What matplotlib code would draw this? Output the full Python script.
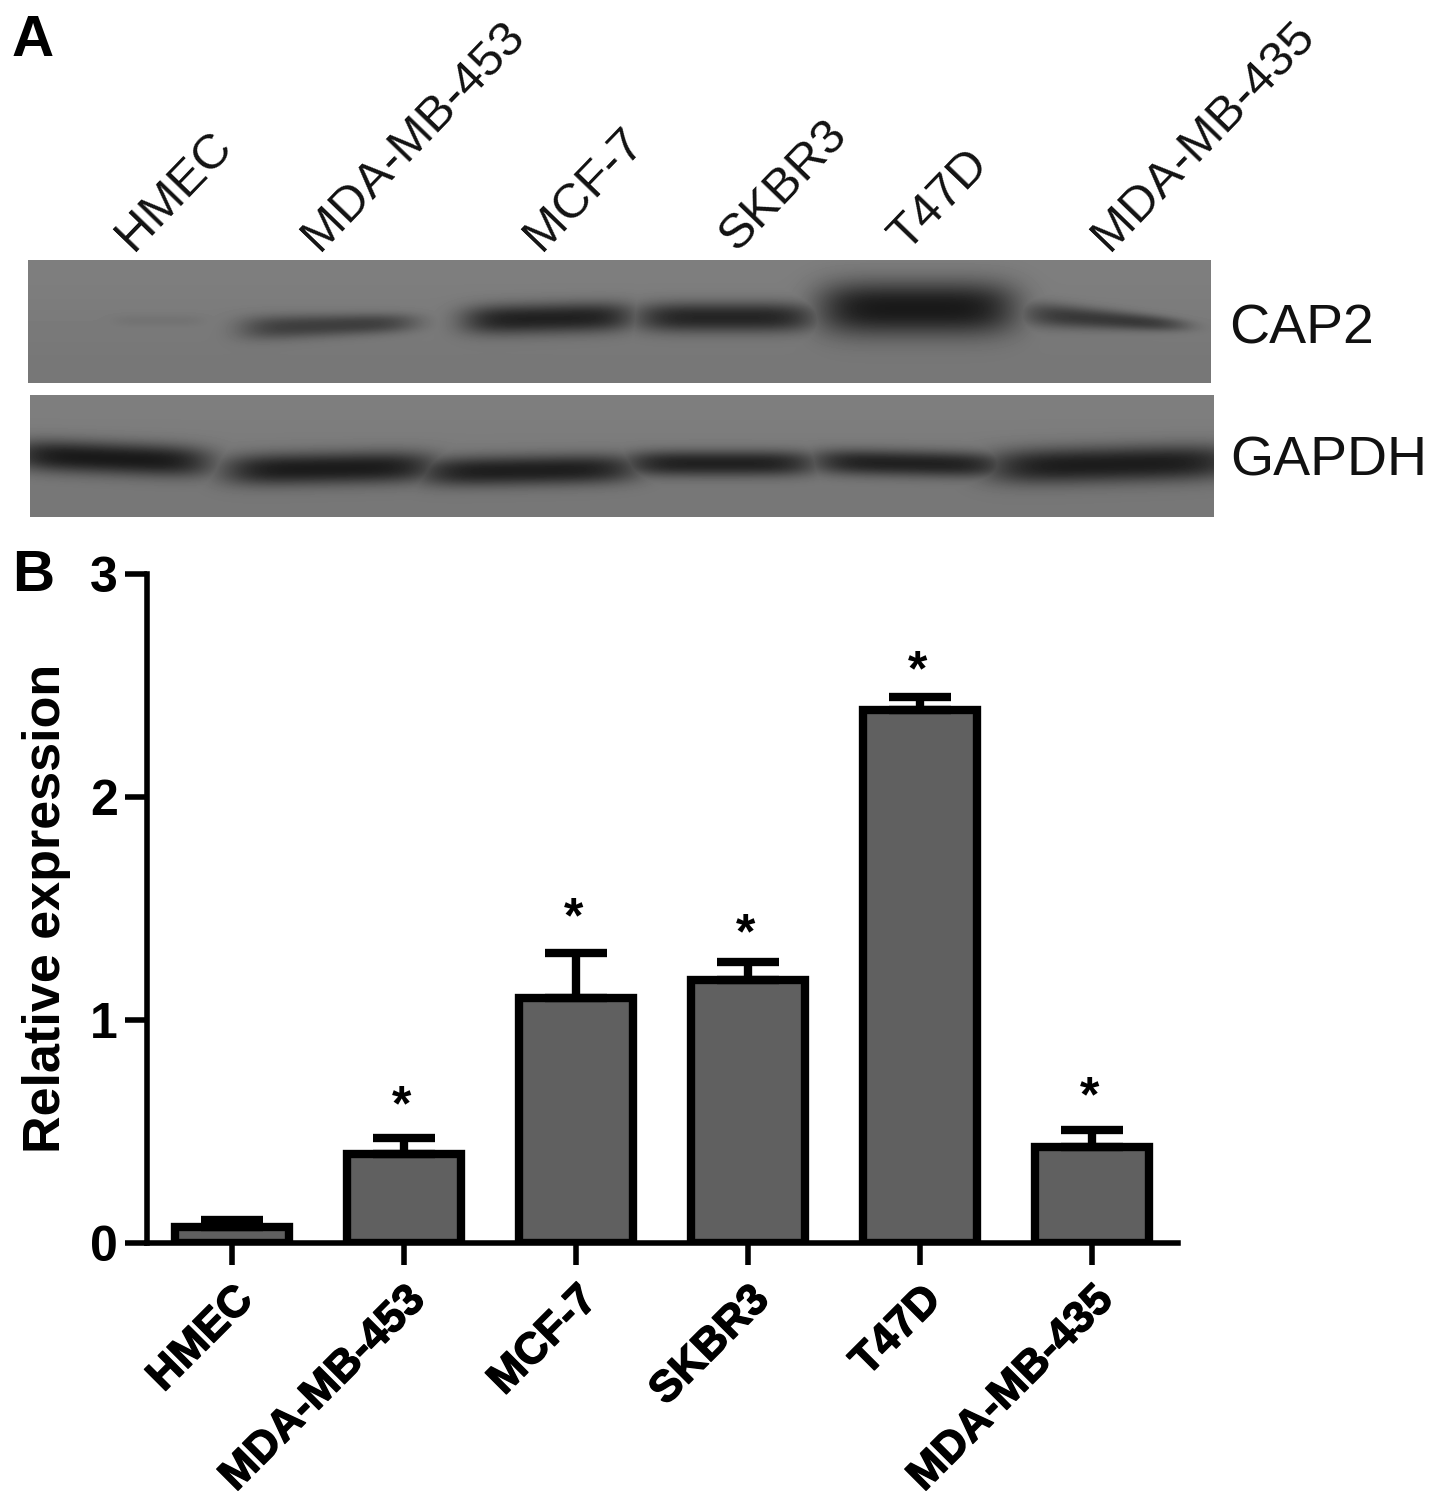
import numpy as np
import matplotlib
matplotlib.use('Agg')
import matplotlib.pyplot as plt
import matplotlib.patheffects as pe

plt.rcParams['font.family'] = ['Liberation Sans', 'DejaVu Sans']

cell_lines = ['HMEC', 'MDA-MB-453', 'MCF-7', 'SKBR3', 'T47D', 'MDA-MB-435']
expression = [0.07, 0.40, 1.10, 1.18, 2.39, 0.43]
errors = [0.035, 0.07, 0.20, 0.08, 0.06, 0.075]
star_levels = [None, 0.61, 1.45, 1.38, 2.56, 0.65]

# band darkness per lane on the blots, read by eye
cap2_strength = [0.08, 0.62, 0.92, 0.88, 1.00, 0.68]
gapdh_strength = [1.00, 0.98, 0.95, 0.92, 0.92, 0.97]

# band geometry in picture pixels: left, right, y, half thickness, y drift, taper
cap2_left = [112, 240, 462, 635, 818, 1022]
cap2_right = [204, 416, 634, 816, 1016, 1186]
cap2_y = [320, 325, 318, 317, 308, 319]
cap2_thick = [6, 11, 15, 15, 27, 10]
cap2_drift = [0, -3, -2, 0, 0, 6]
cap2_taper = [0, 0.15, 0, 0, 0, 0.35]

gapdh_left = [10, 222, 417, 623, 811, 986]
gapdh_right = [212, 437, 639, 817, 1006, 1240]
gapdh_y = [458, 468, 470, 463, 463, 464]
gapdh_thick = [16, 16, 15, 13, 13, 18]
gapdh_drift = [4, -2, -2, 0, 2, -3]
gapdh_taper = [0, 0, 0, 0, 0, 0]

W, H = 1441, 1508


def make_blot(x0, x1, y0, y1, bg, strength, left, right, ys, thick, drift, taper):
    """Build a grey blot image from soft bands, one per lane."""
    xx = np.arange(x0, x1)[None, :]
    yy = np.arange(y0, y1)[:, None]
    dark = np.zeros((y1 - y0, x1 - x0))
    for i in range(len(strength)):
        mid = (left[i] + right[i]) / 2
        half = (right[i] - left[i]) / 2
        rel = (xx - mid) / half
        across = np.exp(-np.abs(rel) ** 5)
        t = thick[i] * (1 - taper[i] * rel)
        t = np.clip(t, 2, None)
        along = np.exp(-np.abs((yy - ys[i] - drift[i] * rel) / t) ** 2.3)
        dark = np.maximum(dark, strength[i] * across * along)
    shade = bg + 0.015 * np.cos((yy - y0) / (y1 - y0) * np.pi)
    return shade - dark * (shade - 0.10)


fig = plt.figure(figsize=(W / 100, H / 100), dpi=100)

# overlay in pixel coordinates for panel A
over = fig.add_axes([0, 0, 1, 1])
over.axis('off')

top = make_blot(28, 1211, 260, 383, 0.48, cap2_strength, cap2_left, cap2_right,
                cap2_y, cap2_thick, cap2_drift, cap2_taper)
low = make_blot(30, 1214, 395, 517, 0.48, gapdh_strength, gapdh_left, gapdh_right,
                gapdh_y, gapdh_thick, gapdh_drift, gapdh_taper)
over.imshow(top, cmap='gray', vmin=0, vmax=1, extent=(28, 1211, 383, 260), aspect='auto')
over.imshow(low, cmap='gray', vmin=0, vmax=1, extent=(30, 1214, 517, 395), aspect='auto')
over.set_xlim(0, W)
over.set_ylim(H, 0)

lane_x = [133, 319, 541, 737, 907, 1109]
for name, x in zip(cell_lines, lane_x):
    over.text(x, 252, name, rotation=46, rotation_mode='anchor', ha='left', va='baseline',
              fontsize=35.5, color='#111111')
over.text(1229, 329, 'CAP2', fontsize=40, ha='left', va='center', color='#111111')
over.text(1230, 461, 'GAPDH', fontsize=40, ha='left', va='center', color='#111111')
over.text(12, 41, 'A', fontsize=42, fontweight='bold', ha='left', va='center')
over.text(12, 576, 'B', fontsize=42, fontweight='bold', ha='left', va='center')

# panel B
ax = fig.add_axes([147 / W, 1 - 1243 / H, (1178 - 147) / W, (1243 - 574) / H])
ax.patch.set_alpha(0)
x = np.arange(len(cell_lines))
ax.bar(x, expression, width=0.665, color='#606060', edgecolor='black', linewidth=6)
ax.errorbar(x, expression, yerr=[np.zeros(len(x)), errors], fmt='none', ecolor='black',
            elinewidth=6, capsize=22, capthick=6)
for i, level in enumerate(star_levels):
    if level is not None:
        ax.text(i - 0.012, level, '*', fontsize=36, fontweight='bold', ha='center', va='center')

ax.set_xlim(-0.494, 5.5)
ax.set_ylim(0, 3)
ax.set_yticks([0, 1, 2, 3])
ax.set_xticks(x)
ax.set_xticklabels(cell_lines, rotation=45, ha='right', va='top', rotation_mode='anchor',
                   fontsize=31.5, fontweight='bold')
ax.tick_params(axis='y', labelsize=36, width=4, length=16, pad=5)
ax.tick_params(axis='x', width=4, length=16, pad=10)
for lab in ax.get_yticklabels():
    lab.set_fontweight('bold')
for lab in ax.get_xticklabels():
    lab.set_path_effects([pe.withStroke(linewidth=1.0, foreground='black')])
ax.spines['top'].set_visible(False)
ax.spines['right'].set_visible(False)
ax.spines['left'].set_linewidth(4)
ax.spines['bottom'].set_linewidth(4)
ax.set_ylabel('Relative expression', fontsize=37.5, fontweight='bold', labelpad=14)

fig.savefig('out.png', dpi=100)
